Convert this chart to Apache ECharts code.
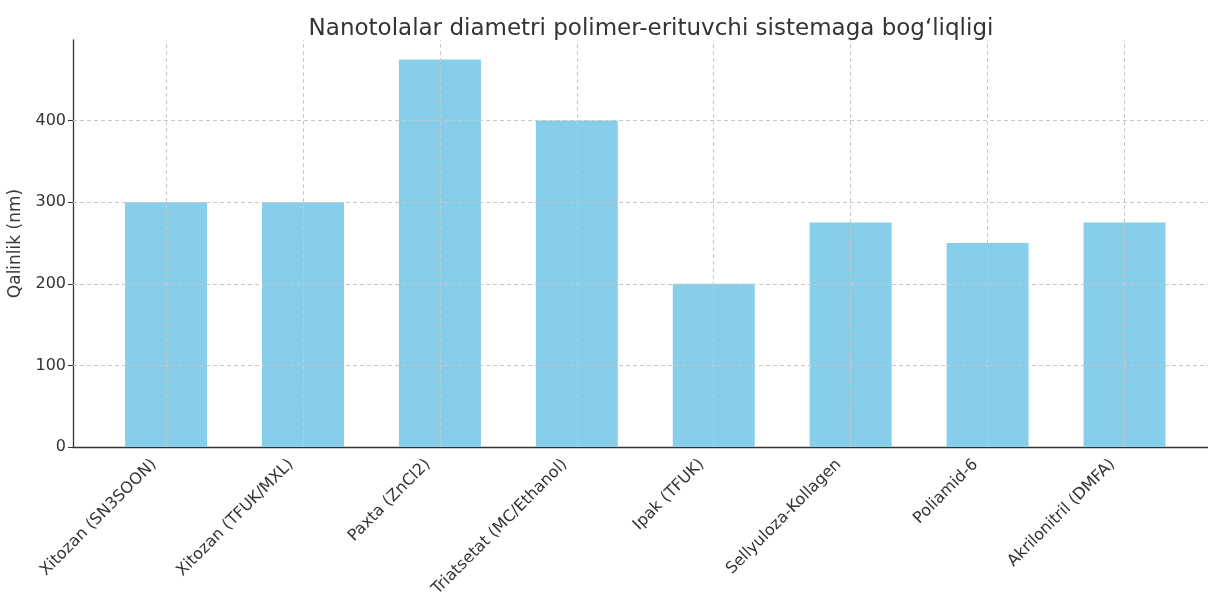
<!DOCTYPE html>
<html>
<head>
<meta charset="utf-8">
<script src="https://cdn.jsdelivr.net/npm/echarts@6/dist/echarts.min.js"></script>
<style>
html,body{margin:0;padding:0;background:#fff;}
#chart{width:1208px;height:596px;}
</style>
</head>
<body>
<div id="chart"></div>
<script>
const categories = ["Xitozan (SN3SOON)", "Xitozan (TFUK/MXL)", "Paxta (ZnCl2)", "Triatsetat (MC/Ethanol)", "Ipak (TFUK)", "Sellyuloza-Kollagen", "Poliamid-6", "Akrilonitril (DMFA)"];
const values = [300, 300, 475, 400, 200, 275, 250, 275];
const yTicks = [0, 100, 200, 300, 400];
const titleText = "Nanotolalar diametri polimer-erituvchi sistemaga bog\u2018liqligi";
const yLabel = "Qalinlik (nm)";

const FONT = "DejaVu Sans";
const chart = echarts.init(document.getElementById('chart'), null, {renderer: 'canvas'});

const gridStyle = {color: '#c8c8c8', width: 1, type: [4, 3]};
const markData = [];
yTicks.forEach(v => { if (v > 0) markData.push({yAxis: v}); });
categories.forEach((c, i) => markData.push({xAxis: i}));

chart.setOption({
  animation: false,
  backgroundColor: '#ffffff',
  title: {
    text: titleText,
    left: 646, top: 13, textAlign: 'center',
    textStyle: {fontFamily: FONT, fontSize: 23, fontWeight: 'normal', color: '#333'}
  },
  grid: {left: 73, right: 0, top: 40, bottom: 149, containLabel: false, outerBoundsMode: 'none'},
  xAxis: {
    type: 'value',
    min: -0.68, max: 7.61,
    splitNumber: 8,
    splitLine: {show: false},
    axisLine: {show: true, onZero: false, lineStyle: {color: '#333', width: 1.3}},
    axisTick: {show: true, inside: true, length: 4, lineStyle: {color: '#333'}},
    axisLabel: {
      rotate: 45, margin: 3, padding: [0, 17, 0, 0], showMinLabel: false, showMaxLabel: false,
      fontFamily: FONT, fontSize: 16, color: '#333',
      formatter: v => (Number.isInteger(v) && categories[v] !== undefined) ? categories[v] : ''
    }
  },
  yAxis: {
    type: 'value',
    min: 0, max: 498.75, interval: 100,
    name: yLabel, nameLocation: 'middle', nameGap: 41, nameRotate: 90,
    nameTextStyle: {fontFamily: FONT, fontSize: 17, color: '#3a3a3a'},
    splitLine: {show: false},
    axisLine: {show: true, onZero: false, lineStyle: {color: '#333', width: 1.3}},
    axisTick: {show: true, length: 5, lineStyle: {color: '#333'}},
    axisLabel: {
      margin: 7, showMaxLabel: false,
      fontFamily: FONT, fontSize: 16, color: '#333',
      formatter: v => (yTicks.indexOf(v) >= 0 ? String(v) : '')
    }
  },
  series: [{
    type: 'bar',
    data: values.map((v, i) => [i, v]),
    barWidth: 82,
    itemStyle: {color: '#87CEEB'},
    markLine: {
      silent: true, symbol: 'none', label: {show: false},
      lineStyle: gridStyle,
      data: markData
    }
  }]
});
</script>
</body>
</html>
